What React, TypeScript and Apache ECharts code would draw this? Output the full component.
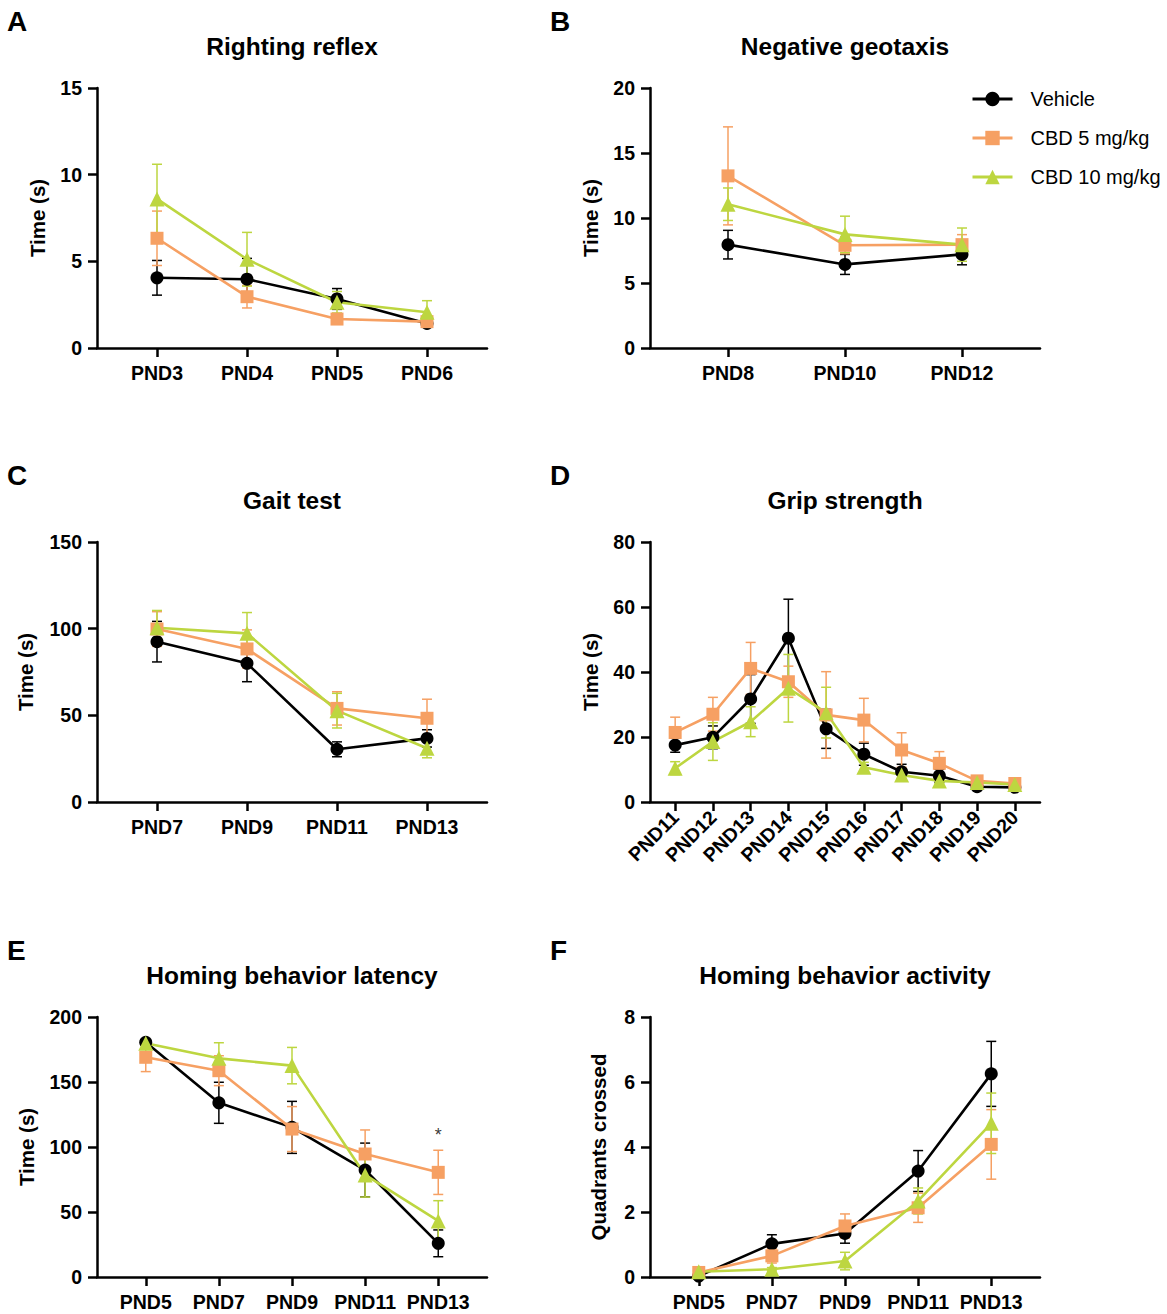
import React, { useEffect, useRef } from 'react';
import * as echarts from 'echarts';

const FONT = '"Liberation Sans", Arial, Helvetica, sans-serif';
const BLACK = '#000000';
const ORANGE = '#F6A063';
const GREEN = '#BDD640';

const seriesNames = ['Vehicle', 'CBD 5 mg/kg', 'CBD 10 mg/kg'];

// A — Righting reflex
const catsA = ['PND3', 'PND4', 'PND5', 'PND6'];
const vehA = [4.05, 3.97, 2.83, 1.42];
const vehSemA = [1.0, 1.2, 0.6, 0.15];
const c5A = [6.33, 2.96, 1.67, 1.52];
const c5SemA = [1.57, 0.65, 0.2, 0.15];
const c10A = [8.6, 5.12, 2.64, 2.06];
const c10SemA = [2.0, 1.55, 0.62, 0.67];

// B — Negative geotaxis
const catsB = ['PND8', 'PND10', 'PND12'];
const vehB = [7.95, 6.43, 7.2];
const vehSemB = [1.1, 0.77, 0.8];
const c5B = [13.24, 7.9, 7.95];
const c5SemB = [3.77, 0.65, 0.77];
const c10B = [11.06, 8.74, 7.95];
const c10SemB = [1.25, 1.4, 1.28];

// C — Gait test
const catsC = ['PND7', 'PND9', 'PND11', 'PND13'];
const vehC = [92.5, 80, 30.4, 36.7];
const vehSemC = [11.7, 10.6, 4.3, 5];
const c5C = [99.8, 88.3, 54, 48.3];
const c5SemC = [10, 11, 9.6, 11];
const c10C = [100.5, 97.3, 52.7, 31];
const c10SemC = [10, 12, 10, 5.5];

// D — Grip strength
const catsD = ['PND11', 'PND12', 'PND13', 'PND14', 'PND15', 'PND16', 'PND17', 'PND18', 'PND19', 'PND20'];
const vehD = [17.5, 19.9, 31.7, 50.4, 22.5, 14.7, 9.3, 8.1, 4.7, 4.5];
const vehSemD = [2.2, 3.5, 7.5, 12, 6, 3.4, 2.3, 2, 0.5, 0.5];
const c5D = [21.4, 27, 41.1, 37, 26.8, 25.2, 16, 11.9, 6.5, 5.7];
const c5SemD = [4.7, 5.2, 8, 4.8, 13.3, 6.7, 5.3, 3.6, 0.5, 0.5];
const c10D = [10.4, 18.6, 24.7, 35, 27.5, 10.7, 8.3, 6.5, 6.0, 5.4];
const c10SemD = [2, 5.8, 4.6, 10.4, 7.8, 1.5, 1, 0.8, 0.5, 0.4];

// E — Homing behavior latency
const catsE = ['PND5', 'PND7', 'PND9', 'PND11', 'PND13'];
const vehE = [180.5, 134, 115.1, 82.3, 25.9];
const vehSemE = [0.5, 15.8, 20, 20.7, 10.3];
const c5E = [169, 158.7, 113.8, 94.6, 80.5];
const c5SemE = [11, 11.5, 17.3, 18.5, 17];
const c10E = [179.8, 168.2, 162.6, 78.5, 43.1];
const c10SemE = [1, 12, 14, 17, 15.6];
const sigE = [[4, 109]];

// F — Homing behavior activity
const catsF = ['PND5', 'PND7', 'PND9', 'PND11', 'PND13'];
const vehF = [0.03, 1.02, 1.34, 3.26, 6.25];
const vehSemF = [0.03, 0.28, 0.3, 0.63, 1.0];
const c5F = [0.14, 0.65, 1.57, 2.13, 4.08];
const c5SemF = [0.1, 0.22, 0.37, 0.45, 1.07];
const c10F = [0.16, 0.24, 0.49, 2.34, 4.73];
const c10SemF = [0.05, 0.05, 0.27, 0.4, 0.93];

const panels = [
  { letter: 'A', title: 'Righting reflex', cats: catsA, groups: [[vehA, vehSemA], [c5A, c5SemA], [c10A, c10SemA]], yMax: 15, yInt: 5, yName: 'Time (s)', grid: { left: 97, top: 88, width: 390, height: 260 }, nameGap: 49, rotate: 0 },
  { letter: 'B', title: 'Negative geotaxis', cats: catsB, groups: [[vehB, vehSemB], [c5B, c5SemB], [c10B, c10SemB]], yMax: 20, yInt: 5, yName: 'Time (s)', grid: { left: 650, top: 88, width: 390, height: 260 }, nameGap: 49, rotate: 0 },
  { letter: 'C', title: 'Gait test', cats: catsC, groups: [[vehC, vehSemC], [c5C, c5SemC], [c10C, c10SemC]], yMax: 150, yInt: 50, yName: 'Time (s)', grid: { left: 97, top: 542, width: 390, height: 260 }, nameGap: 61, rotate: 0 },
  { letter: 'D', title: 'Grip strength', cats: catsD, groups: [[vehD, vehSemD], [c5D, c5SemD], [c10D, c10SemD]], yMax: 80, yInt: 20, yName: 'Time (s)', grid: { left: 650, top: 542, width: 390, height: 260 }, nameGap: 49, rotate: 45 },
  { letter: 'E', title: 'Homing behavior latency', cats: catsE, groups: [[vehE, vehSemE], [c5E, c5SemE], [c10E, c10SemE]], yMax: 200, yInt: 50, yName: 'Time (s)', grid: { left: 97, top: 1017, width: 390, height: 260 }, nameGap: 60, rotate: 0 },
  { letter: 'F', title: 'Homing behavior activity', cats: catsF, groups: [[vehF, vehSemF], [c5F, c5SemF], [c10F, c10SemF]], yMax: 8, yInt: 2, yName: 'Quadrants crossed', grid: { left: 650, top: 1017, width: 390, height: 260 }, nameGap: 41, rotate: 0 },
];

const colors = [BLACK, ORANGE, GREEN];
const symbols = ['circle', 'rect', 'triangle'];
const symbolSizes = [13, 13, 15];

const errRender = (color: string) => (params: any, api: any) => {
  const x = api.value(0);
  const m = api.value(1);
  const s = api.value(2);
  const top = api.coord([x, m + s]);
  const bot = api.coord([x, Math.max(0, m - s)]);
  const hw = 5;
  const style = { stroke: color, lineWidth: 1.5, fill: null };
  return {
    type: 'group',
    children: [
      { type: 'line', shape: { x1: top[0], y1: top[1], x2: bot[0], y2: bot[1] }, style },
      { type: 'line', shape: { x1: top[0] - hw, y1: top[1], x2: top[0] + hw, y2: top[1] }, style },
      { type: 'line', shape: { x1: bot[0] - hw, y1: bot[1], x2: bot[0] + hw, y2: bot[1] }, style },
    ],
  };
};

function buildOption() {
  const grid: any[] = [];
  const xAxis: any[] = [];
  const yAxis: any[] = [];
  const series: any[] = [];
  const graphic: any[] = [];
  const axisLineStyle = { color: BLACK, width: 2.5 };

  panels.forEach((p, pi) => {
    grid.push({ ...p.grid, containLabel: false });
    const n = p.cats.length;
    const idx = p.cats.map((_, i) => i);
    xAxis.push({
      type: 'value',
      gridIndex: pi,
      min: -2 / 3,
      max: n - 1 + 2 / 3,
      splitLine: { show: false },
      axisLine: { show: true, onZero: false, lineStyle: axisLineStyle },
      axisTick: { show: true, length: 9, lineStyle: axisLineStyle, customValues: idx },
      axisLabel: {
        customValues: idx,
        formatter: (v: number) => p.cats[Math.round(v)] ?? '',
        color: BLACK,
        fontFamily: FONT,
        fontWeight: 'bold',
        fontSize: 19.5,
        margin: p.rotate ? 12 : 15,
        rotate: p.rotate,
      },
    });
    yAxis.push({
      type: 'value',
      gridIndex: pi,
      min: 0,
      max: p.yMax,
      interval: p.yInt,
      name: p.yName,
      nameLocation: 'middle',
      nameGap: p.nameGap,
      nameTextStyle: { color: BLACK, fontFamily: FONT, fontWeight: 'bold', fontSize: 20.5 },
      splitLine: { show: false },
      axisLine: { show: true, onZero: false, lineStyle: axisLineStyle },
      axisTick: { show: true, length: 9, lineStyle: axisLineStyle },
      axisLabel: { color: BLACK, fontFamily: FONT, fontWeight: 'bold', fontSize: 19.5, margin: 15 },
    });

    p.groups.forEach(([means, sems], gi) => {
      series.push({
        type: 'custom',
        name: seriesNames[gi] + ' SEM',
        xAxisIndex: pi,
        yAxisIndex: pi,
        renderItem: errRender(colors[gi]),
        encode: { x: 0, y: 1 },
        data: means.map((m, i) => [i, m, sems[i]]),
        z: 2,
        silent: true,
      });
      series.push({
        type: 'line',
        name: seriesNames[gi],
        xAxisIndex: pi,
        yAxisIndex: pi,
        data: means.map((m, i) => [i, m]),
        symbol: symbols[gi],
        symbolSize: symbolSizes[gi],
        showAllSymbol: true,
        lineStyle: { color: colors[gi], width: 2.6 },
        itemStyle: { color: colors[gi] },
        z: 2,
      });
    });

    graphic.push({
      type: 'text',
      x: p.grid.left <= 100 ? 7 : 550,
      y: p.grid.top - 67,
      style: { text: p.letter, font: `bold 28px ${FONT}`, fill: BLACK, align: 'left', verticalAlign: 'middle' },
    });
    graphic.push({
      type: 'text',
      x: p.grid.left + p.grid.width / 2,
      y: p.grid.top - 42,
      style: { text: p.title, font: `bold 24.5px ${FONT}`, fill: BLACK, align: 'center', verticalAlign: 'middle' },
    });
  });

  series.push({
    type: 'scatter',
    name: 'significance',
    xAxisIndex: 4,
    yAxisIndex: 4,
    data: sigE,
    symbolSize: 1,
    itemStyle: { color: 'rgba(0,0,0,0)' },
    label: { show: true, position: 'inside', formatter: '*', color: BLACK, fontFamily: FONT, fontSize: 18 },
    silent: true,
    z: 5,
  });

  return {
    animation: false,
    backgroundColor: '#ffffff',
    grid,
    xAxis,
    yAxis,
    series,
    graphic,
    legend: {
      data: seriesNames,
      orient: 'vertical',
      left: 966,
      top: 84,
      itemWidth: 40,
      itemHeight: 18,
      itemGap: 19,
      selectedMode: false,
      lineStyle: { width: 3 },
      textStyle: { color: BLACK, fontFamily: FONT, fontSize: 20, lineHeight: 20, padding: [0, 0, 0, 13] },
    },
  };
}

export default function App() {
  const ref = useRef<HTMLDivElement>(null);
  useEffect(() => {
    if (!ref.current) return;
    const chart = echarts.init(ref.current, undefined, { renderer: 'svg' });
    chart.setOption(buildOption() as any);
    return () => chart.dispose();
  }, []);
  return (
    <div
      ref={ref}
      style={{ position: 'absolute', left: 0, top: 0, width: 1167, height: 1314, background: '#fff' }}
    />
  );
}
